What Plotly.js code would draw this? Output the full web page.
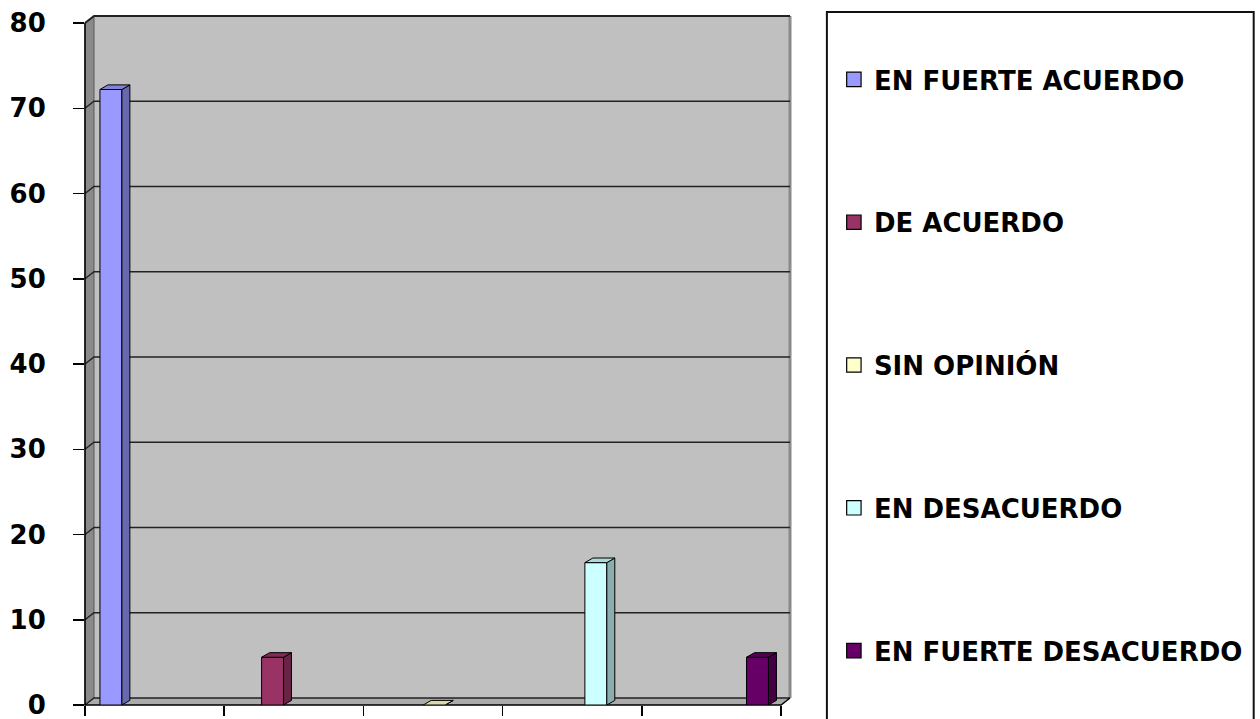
<!DOCTYPE html>
<html>
<head>
<meta charset="utf-8">
<script src="https://cdn.plot.ly/plotly-3.0.1.min.js"></script>
<style>
  html, body { margin: 0; padding: 0; background: #ffffff; }
  #chart { width: 1260px; height: 719px; }
</style>
</head>
<body>
<div id="chart"></div>
<script>
// Survey answers (percent of respondents)
const categories = ['EN FUERTE ACUERDO', 'DE ACUERDO', 'SIN OPINIÓN', 'EN DESACUERDO', 'EN FUERTE DESACUERDO'];
const values = [72.2, 5.6, 0, 16.7, 5.6];
const frontColors = ['#9999FF', '#993366', '#FFFFCC', '#CCFFFF', '#660066'];
const yTicks = [0, 10, 20, 30, 40, 50, 60, 70, 80];

// Axis geometry (pixels per unit) and 3D depth settings
const PX_CAT = 139.6;          // width of one category slot
const PX_UNIT = 8.525;         // pixels per percentage point
const PLOT_W = 707, PLOT_H = 689;
const XR = [-0.5, -0.5 + PLOT_W / PX_CAT];
const YR = [0, PLOT_H / PX_UNIT];
const WALL_DX = 9 / PX_CAT, WALL_DY = 7 / PX_UNIT;   // back wall depth
const BAR_DX = 8 / PX_CAT, BAR_DY = 4.6 / PX_UNIT;   // bar depth
const BAR_W = 22 / PX_CAT;
const SLOT_START = 15, SLOT_STEP = 22.5;             // bar positions inside a category

function shade(hex, f) {
  const n = parseInt(hex.slice(1), 16);
  const c = [(n >> 16) & 255, (n >> 8) & 255, n & 255].map(v => Math.round(v * f));
  return 'rgb(' + c.join(',') + ')';
}
const xp = v => (v - XR[0]) / (XR[1] - XR[0]);
const yp = v => (v - YR[0]) / (YR[1] - YR[0]);

const traces = [];
const faces = [];
categories.forEach((name, k) => {
  const off = (SLOT_START + SLOT_STEP * k - PX_CAT / 2) / PX_CAT;
  const v = values[k];
  traces.push({
    type: 'bar', x: [k], y: [v], width: [BAR_W], offset: [off],
    name: name, legendgroup: 'g' + k,
    marker: { color: frontColors[k], line: { color: '#000000', width: 1 } },
    hoverinfo: 'name+y'
  });
  const L = k + off, R = L + BAR_W;
  // right side face
  faces.push({
    type: 'scatter', mode: 'lines', fill: 'toself', showlegend: false, hoverinfo: 'skip',
    x: [R, R + BAR_DX, R + BAR_DX, R, R],
    y: [0, BAR_DY, v + BAR_DY, v, 0],
    fillcolor: shade(frontColors[k], 0.68), line: { color: '#000000', width: 1 }
  });
  // top face
  faces.push({
    type: 'scatter', mode: 'lines', fill: 'toself', showlegend: false, hoverinfo: 'skip',
    x: [L, L + BAR_DX, R + BAR_DX, R, L],
    y: [v, v + BAR_DY, v + BAR_DY, v, v],
    fillcolor: shade(frontColors[k], 0.85), line: { color: '#000000', width: 1 }
  });
});

// Walls, floor and gridlines of the 3D box
const shapes = [];
const P = (x, y) => xp(x).toFixed(5) + ',' + yp(y).toFixed(5);
const x0 = XR[0], xw = XR[0] + WALL_DX, x1 = XR[1];
shapes.push({ type: 'rect', xref: 'paper', yref: 'paper', layer: 'below',
  x0: xp(xw), x1: xp(x1), y0: yp(WALL_DY), y1: 1,
  fillcolor: '#C0C0C0', line: { width: 0 } });
shapes.push({ type: 'path', xref: 'paper', yref: 'paper', layer: 'below',
  path: 'M' + P(x0, 0) + 'L' + P(xw, WALL_DY) + 'L' + P(xw, YR[1]) + 'L' + P(x0, YR[1] - WALL_DY) + 'Z',
  fillcolor: '#8A8A8A', line: { color: '#555555', width: 1 } });
shapes.push({ type: 'path', xref: 'paper', yref: 'paper', layer: 'below',
  path: 'M' + P(x0, 0) + 'L' + P(xw, WALL_DY) + 'L' + P(x1, WALL_DY) + 'L' + P(x1 - WALL_DX, 0) + 'Z',
  fillcolor: '#ABABAB', line: { width: 0 } });
shapes.push({ type: 'line', xref: 'paper', yref: 'paper', layer: 'below',
  x0: xp(x1), x1: xp(x1), y0: yp(WALL_DY), y1: 1,
  line: { color: '#8A8A8A', width: 3 } });
yTicks.forEach(t => {
  shapes.push({ type: 'path', xref: 'paper', yref: 'paper', layer: 'below',
    path: 'M' + P(x0, t) + 'L' + P(xw, t + WALL_DY) + 'L' + P(x1, t + WALL_DY),
    line: { color: '#222222', width: t === 80 ? 2 : 1.5 } });
});
// front edges
shapes.push({ type: 'path', xref: 'paper', yref: 'paper', layer: 'below',
  path: 'M' + P(x0, 80) + 'L' + P(x0, 0) + 'L' + P(x1 - WALL_DX, 0) + 'L' + P(x1, WALL_DY),
  line: { color: '#000000', width: 1.5 } });
// legend frame
shapes.push({ type: 'rect', xref: 'paper', yref: 'paper', layer: 'below',
  x0: (829 - 85) / PLOT_W, x1: (1257 - 85) / PLOT_W, y0: -0.05, y1: (705 - 12) / PLOT_H,
  fillcolor: 'rgba(0,0,0,0)', line: { color: '#111111', width: 2 } });

const layout = {
  width: 1260, height: 719, autosize: false,
  margin: { l: 85, r: 468, t: 16, b: 14 },
  paper_bgcolor: '#ffffff', plot_bgcolor: 'rgba(0,0,0,0)',
  barmode: 'overlay',
  showlegend: true,
  legend: {
    x: (836 - 85) / PLOT_W, xanchor: 'left',
    y: (705 - 56) / PLOT_H, yanchor: 'top',
    traceorder: 'grouped', tracegroupgap: 106,
    bgcolor: 'rgba(0,0,0,0)', borderwidth: 0,
    font: { family: 'DejaVu Sans', size: 26, color: '#000000', weight: 'bold' }
  },
  xaxis: {
    range: XR, tickvals: [-0.5, 0.5, 1.5, 2.5, 3.5, 4.5],
    ticks: 'outside', ticklen: 10, tickwidth: 1.5, tickcolor: '#000000',
    showticklabels: false, showgrid: false, zeroline: false, showline: false, fixedrange: true
  },
  yaxis: {
    range: YR, tickvals: yTicks, ticktext: yTicks.map(String),
    ticks: 'outside', ticklen: 11, tickwidth: 1.5, tickcolor: '#000000',
    ticklabelstandoff: 22, ticklabeloverflow: 'allow',
    tickfont: { family: 'DejaVu Sans', size: 26, color: '#000000', weight: 'bold' },
    showgrid: false, zeroline: false, showline: false, fixedrange: true
  },
  shapes: shapes
};

Plotly.newPlot('chart', traces.concat(faces), layout, { displayModeBar: false, staticPlot: true })
  .then(gd => {
    // slightly larger legend swatches
    gd.querySelectorAll('.legend .legendpoints path').forEach(p => {
      const t = p.getAttribute('transform') || '';
      p.setAttribute('transform', t + ' scale(1.2)');
    });
  });
</script>
</body>
</html>
